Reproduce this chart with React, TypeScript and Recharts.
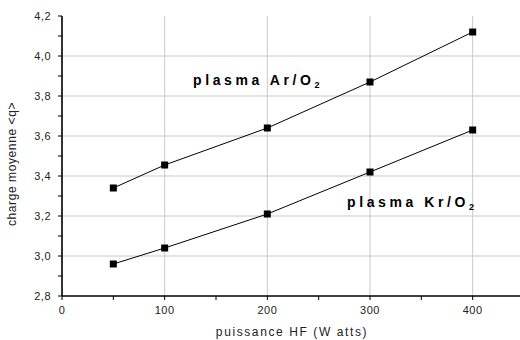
import React from "react";
import {
  LineChart,
  Line,
  XAxis,
  YAxis,
  ReferenceLine,
} from "recharts";

// puissance HF (W) and charge moyenne for each plasma
const puissance = [50, 100, 200, 300, 400];
const chargeArO2 = [3.34, 3.455, 3.64, 3.87, 4.12];
const chargeKrO2 = [2.96, 3.04, 3.21, 3.42, 3.63];

const xTicks = [0, 50, 100, 150, 200, 250, 300, 350, 400, 450];
const yTicks = [2.8, 2.9, 3.0, 3.1, 3.2, 3.3, 3.4, 3.5, 3.6, 3.7, 3.8, 3.9, 4.0, 4.1, 4.2];
const xGrid = [100, 200, 300, 400];
const yGrid = [3.0, 3.2, 3.4, 3.6, 3.8, 4.0];

const data = puissance.map((p, i) => ({
  p,
  ar: chargeArO2[i],
  kr: chargeKrO2[i],
}));

const FONT = "'Liberation Sans', Arial, sans-serif";

const tickStyle = { fill: "#222", fontSize: 11, fontFamily: FONT, letterSpacing: 0.5 };

const fmtX = (v: number) => (v % 100 === 0 ? String(v) : "");
const fmtY = (v: number) =>
  Math.round(v * 10) % 2 === 0 ? v.toFixed(1).replace(".", ",") : "";

// filled square marker
const Square = (props: any) => {
  const { cx, cy } = props;
  if (cx == null || cy == null) return null;
  return <rect x={cx - 3.5} y={cy - 3.5} width={7} height={7} fill="#000" />;
};

const annot: React.CSSProperties = {
  position: "absolute",
  fontFamily: FONT,
  fontWeight: "bold",
  fontSize: 14,
  letterSpacing: 3.6,
  color: "#000",
  whiteSpace: "nowrap",
  lineHeight: "14px",
};

export default function App() {
  return (
    <div
      style={{
        position: "absolute",
        left: 0,
        top: 0,
        width: 520,
        height: 340,
        overflow: "hidden",
        background: "#fff",
      }}
    >
      <LineChart
        width={530}
        height={340}
        data={data}
        margin={{ top: 16, right: 6, bottom: 0, left: 0 }}
      >
        {xGrid.map((x) => (
          <ReferenceLine key={"gx" + x} x={x} stroke="#c8c8c8" strokeWidth={1} />
        ))}
        {yGrid.map((y) => (
          <ReferenceLine key={"gy" + y} y={y} stroke="#c8c8c8" strokeWidth={1} />
        ))}
        <XAxis
          dataKey="p"
          type="number"
          domain={[0, 450]}
          ticks={xTicks}
          tickFormatter={fmtX}
          interval={0}
          height={44}
          tickSize={4}
          tickMargin={6}
          tick={tickStyle}
          axisLine={{ stroke: "#000", strokeWidth: 1.6 }}
          tickLine={{ stroke: "#000" }}
        />
        <XAxis
          xAxisId="top"
          orientation="top"
          dataKey="p"
          type="number"
          domain={[0, 450]}
          ticks={xTicks}
          tickFormatter={() => ""}
          interval={0}
          height={0}
          mirror
          tickSize={4}
          axisLine={{ stroke: "#000", strokeWidth: 1.6 }}
          tickLine={{ stroke: "#000" }}
        />
        <YAxis
          type="number"
          domain={[2.8, 4.2]}
          ticks={yTicks}
          tickFormatter={fmtY}
          interval={0}
          width={62}
          tickSize={4}
          tickMargin={7}
          tick={tickStyle}
          axisLine={{ stroke: "#000", strokeWidth: 1.6 }}
          tickLine={{ stroke: "#000" }}
        />
        <YAxis
          yAxisId="right"
          orientation="right"
          type="number"
          domain={[2.8, 4.2]}
          ticks={yTicks}
          tickFormatter={() => ""}
          interval={0}
          width={0}
          mirror
          tickSize={4}
          axisLine={{ stroke: "#000", strokeWidth: 1.6 }}
          tickLine={{ stroke: "#000" }}
        />
        <Line
          dataKey="ar"
          stroke="#000"
          strokeWidth={1}
          dot={<Square />}
          activeDot={false}
          isAnimationActive={false}
        />
        <Line
          dataKey="kr"
          stroke="#000"
          strokeWidth={1}
          dot={<Square />}
          activeDot={false}
          isAnimationActive={false}
        />
      </LineChart>

      <div
        style={{
          position: "absolute",
          left: 12,
          top: 164,
          transform: "translate(-50%, -50%) rotate(-90deg)",
          fontFamily: FONT,
          fontSize: 12,
          letterSpacing: 0.6,
          color: "#222",
          whiteSpace: "nowrap",
        }}
      >
        charge moyenne &lt;q&gt;
      </div>
      <div
        style={{
          position: "absolute",
          left: 292,
          top: 332,
          transform: "translate(-50%, -50%)",
          fontFamily: FONT,
          fontSize: 12,
          letterSpacing: 1.6,
          color: "#222",
          whiteSpace: "nowrap",
        }}
      >
        puissance HF (W atts)
      </div>

      <div style={{ ...annot, left: 193, top: 73 }}>
        plasma Ar/O<sub style={{ fontSize: 9, verticalAlign: -3 }}>2</sub>
      </div>
      <div style={{ ...annot, left: 347, top: 195 }}>
        plasma Kr/O<sub style={{ fontSize: 9, verticalAlign: -3 }}>2</sub>
      </div>
    </div>
  );
}
